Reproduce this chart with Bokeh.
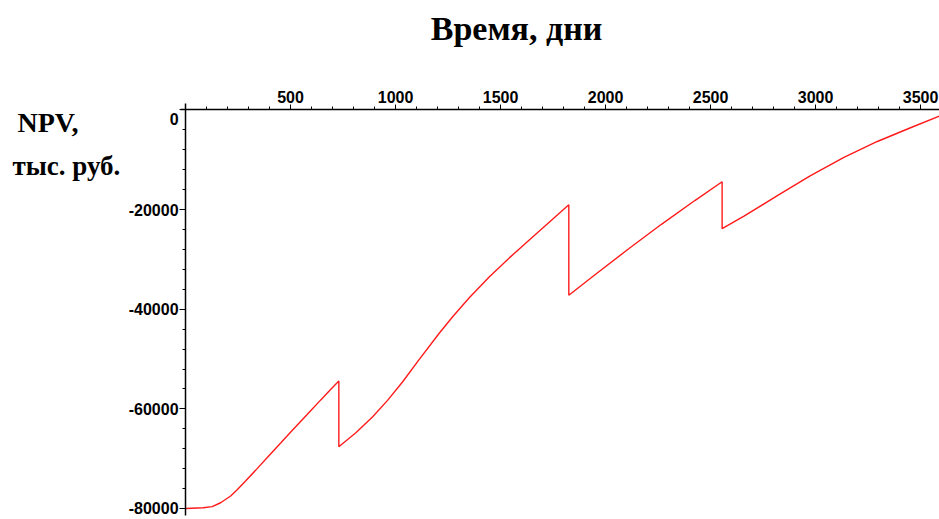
from bokeh.plotting import figure
from bokeh.models import Range1d, FixedTicker, Label
from bokeh.embed import file_html
from bokeh.resources import INLINE

# Data (days, NPV in thousand roubles)
days = [0, 84, 127, 167, 215, 247, 286, 342, 397, 453, 501, 549, 588, 644, 684, 730,
        730, 811, 890, 962, 1034, 1113, 1208, 1272, 1352, 1447, 1543, 1638, 1733, 1825,
        1825, 1948, 2107, 2266, 2425, 2555,
        2555, 2659, 2818, 2976, 3135, 3294, 3452, 3600]
npv = [-80000, -79850, -79620, -78850, -77500, -76200, -74500, -71950, -69400, -66850, -64650,
       -62480, -60720, -58200, -56420, -54400,
       -67610, -64780, -61620, -58300, -54560, -50060, -44830, -41500, -37660, -33480,
       -29640, -26030, -22470, -19020,
       -37190, -33130, -27960, -22950, -18180, -14410,
       -23820, -21320, -17190, -13160, -9500, -6320, -3560, -1040]

x_major = [500, 1000, 1500, 2000, 2500, 3000, 3500]
x_minor = list(range(100, 3600, 100))
y_major = [-80000, -60000, -40000, -20000, 0]
y_minor = list(range(-80000, 1, 4000))
y_labels = {-80000: "-80000", -60000: "-60000", -40000: "-40000", -20000: "-20000", 0: ""}

title_text = "Время, дни"
ylabel_1 = "NPV,"
ylabel_2 = "тыс. руб."

tick_font = "Liberation Sans"
serif = "Liberation Serif"

p = figure(width=939, height=519, output_backend="svg", toolbar_location=None,
           x_axis_location="above", y_axis_location="left",
           x_range=Range1d(-881, 3590), y_range=Range1d(-82212, 21983),
           min_border=0, min_border_left=0, min_border_right=0,
           min_border_top=0, min_border_bottom=0)
p.outline_line_color = None
p.grid.visible = False
p.background_fill_color = "white"
p.border_fill_color = "white"

p.line(days, npv, line_color="#ff1a1a", line_width=1.4)

for ax in (p.xaxis[0], p.yaxis[0]):
    ax.fixed_location = 0
    ax.axis_line_color = "black"
    ax.axis_line_width = 1.5
    ax.major_tick_line_color = "black"
    ax.minor_tick_line_color = "black"
    ax.major_tick_in = 0
    ax.minor_tick_in = 0
    ax.major_label_text_font = tick_font
    ax.major_label_text_font_style = "bold"
    ax.major_label_text_font_size = "16px"
    ax.major_label_text_color = "black"

p.xaxis.ticker = FixedTicker(ticks=x_major, minor_ticks=x_minor)
p.xaxis.bounds = (-25, 3590)
p.xaxis.major_tick_out = 5
p.xaxis.minor_tick_out = 3
p.xaxis.major_label_standoff = 2

p.yaxis.ticker = FixedTicker(ticks=y_major, minor_ticks=y_minor)
p.yaxis.bounds = (-81500, 1300)
p.yaxis.major_tick_out = 6
p.yaxis.minor_tick_out = 3
p.yaxis.major_label_standoff = 1
p.yaxis.major_label_overrides = y_labels

p.add_layout(Label(x=-33, y=-1907, text="0", text_align="right", text_baseline="middle",
                   text_font=tick_font, text_font_style="bold", text_font_size="16px",
                   text_color="black"))
p.add_layout(Label(x=1576, y=16362, text=title_text, text_align="center",
                   text_baseline="alphabetic", text_font=serif, text_font_style="bold",
                   text_font_size="34px", text_color="black"))
p.add_layout(Label(x=-800, y=-2610, text=ylabel_1, text_align="left",
                   text_baseline="alphabetic", text_font=serif, text_font_style="bold",
                   text_font_size="28px", text_color="black"))
p.add_layout(Label(x=-824, y=-11343, text=ylabel_2, text_align="left",
                   text_baseline="alphabetic", text_font=serif, text_font_style="bold",
                   text_font_size="27px", text_color="black"))

open("out.html", "w").write(file_html(p, INLINE))
